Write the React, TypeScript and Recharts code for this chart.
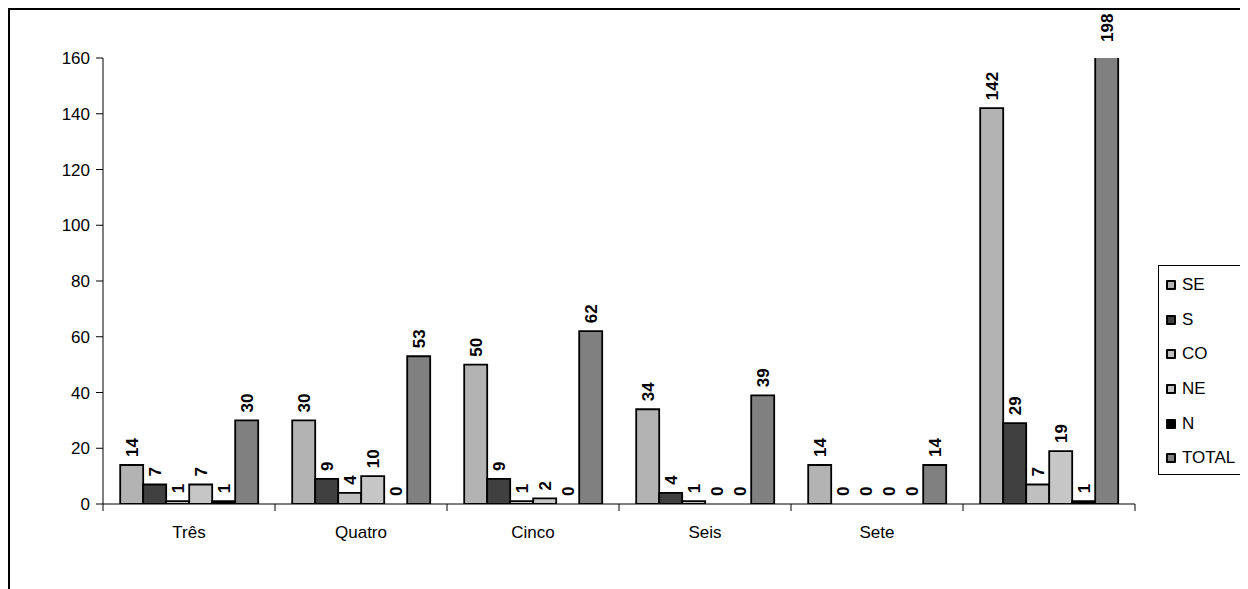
import { Bar, BarChart, Cell, LabelList, Legend, XAxis, YAxis } from 'recharts';

const categories = ['Três', 'Quatro', 'Cinco', 'Seis', 'Sete', ''];
const seValues = [14, 30, 50, 34, 14, 142];
const sValues = [7, 9, 9, 4, 0, 29];
const coValues = [1, 4, 1, 1, 0, 7];
const neValues = [7, 10, 2, 0, 0, 19];
const nValues = [1, 0, 0, 0, 0, 1];
const totalValues = [30, 53, 62, 39, 14, 198];
const yTicks = [0, 20, 40, 60, 80, 100, 120, 140, 160];

const seriesNames = ['SE', 'S', 'CO', 'NE', 'N', 'TOTAL'];
const seriesValues = [seValues, sValues, coValues, neValues, nValues, totalValues];
const COLORS = ['#b3b3b3', '#404040', '#c0c0c0', '#c6c6c6', '#000000', '#808080'];

const chartData = categories.map((name, i) => {
  const row: Record<string, any> = { name };
  seriesNames.forEach((key, k) => {
    row[key] = seriesValues[k][i];
  });
  return row;
});

const FONT = '"Liberation Sans", Arial, sans-serif';
const CHART_W = 1236;
const CHART_H = 579;
const MARGIN = { top: 48, right: 111, bottom: 45, left: 0 };
const Y_AXIS_W = 93;
const X_AXIS_H = 40;
const PLOT_TOP = MARGIN.top;
const BAND = (CHART_W - MARGIN.right - MARGIN.left - Y_AXIS_W) / categories.length;

const renderValueLabel = (props: any) => {
  const { x, y, width, value } = props;
  const cx = Number(x) + Number(width) / 2;
  const base = Math.max(Number(y), PLOT_TOP - 8) - 8;
  return (
    <text
      x={cx}
      y={base}
      dy="0.36em"
      transform={`rotate(-90 ${cx} ${base})`}
      textAnchor="start"
      fontFamily={FONT}
      fontSize={17}
      fontWeight="bold"
      fill="#000"
    >
      {value}
    </text>
  );
};

const CategoryTick = (props: any) => {
  const { x, y, payload, index } = props;
  const left = x - BAND / 2;
  const right = x + BAND / 2;
  return (
    <g>
      <line x1={left} y1={y} x2={left} y2={y + 7} stroke="#000" strokeWidth={1} />
      {index === categories.length - 1 && (
        <line x1={right} y1={y} x2={right} y2={y + 7} stroke="#000" strokeWidth={1} />
      )}
      <text x={x} y={y + 34} textAnchor="middle" fontFamily={FONT} fontSize={17} fill="#000">
        {payload.value}
      </text>
    </g>
  );
};

const LegendBox = () => (
  <div
    style={{
      width: 90,
      height: 210,
      border: '1.5px solid #000',
      boxSizing: 'border-box',
      background: '#fff',
      paddingTop: 2,
      fontFamily: FONT,
      fontSize: 17,
      color: '#000',
    }}
  >
    {seriesNames.map((name, i) => (
      <div key={name} style={{ height: 34.6, display: 'flex', alignItems: 'center' }}>
        <span
          style={{
            display: 'inline-block',
            width: 6,
            height: 6,
            border: '2px solid #000',
            borderRadius: 1,
            background: COLORS[i],
            marginLeft: 7,
            marginRight: 6,
          }}
        />
        <span>{name}</span>
      </div>
    ))}
  </div>
);

export default function App() {
  return (
    <div
      style={{
        width: 1240,
        height: 600,
        border: '2px solid #000',
        boxSizing: 'border-box',
        overflow: 'hidden',
        background: '#fff',
      }}
    >
      <BarChart
        width={CHART_W}
        height={CHART_H}
        data={chartData}
        margin={MARGIN}
        barCategoryGap="10%"
        barGap={0}
      >
        <XAxis
          dataKey="name"
          height={X_AXIS_H}
          interval={0}
          tickLine={false}
          tickSize={0}
          tickMargin={0}
          axisLine={{ stroke: '#000', strokeWidth: 1 }}
          tick={<CategoryTick />}
        />
        <YAxis
          width={Y_AXIS_W}
          domain={[0, 160]}
          ticks={yTicks}
          allowDataOverflow
          tickSize={7}
          tickMargin={6}
          axisLine={{ stroke: '#000', strokeWidth: 1 }}
          tickLine={{ stroke: '#000', strokeWidth: 1 }}
          tick={{ fill: '#000', fontSize: 17, fontFamily: FONT }}
        />
        <Legend
          layout="vertical"
          align="center"
          verticalAlign="middle"
          wrapperStyle={{ left: 1148, top: 255, width: 90, height: 210 }}
          content={<LegendBox />}
        />
        {seriesNames.map((key, i) => (
          <Bar
            key={key}
            dataKey={key}
            fill={COLORS[i]}
            stroke="#000"
            strokeWidth={1.8}
            minPointSize={0.01}
            isAnimationActive={false}
          >
            {seriesValues[i].map((v, j) => (
              <Cell key={`cell-${j}`} stroke={v === 0 ? 'none' : '#000'} fill={v === 0 ? 'none' : COLORS[i]} />
            ))}
            <LabelList dataKey={key} content={renderValueLabel} />
          </Bar>
        ))}
      </BarChart>
    </div>
  );
}
